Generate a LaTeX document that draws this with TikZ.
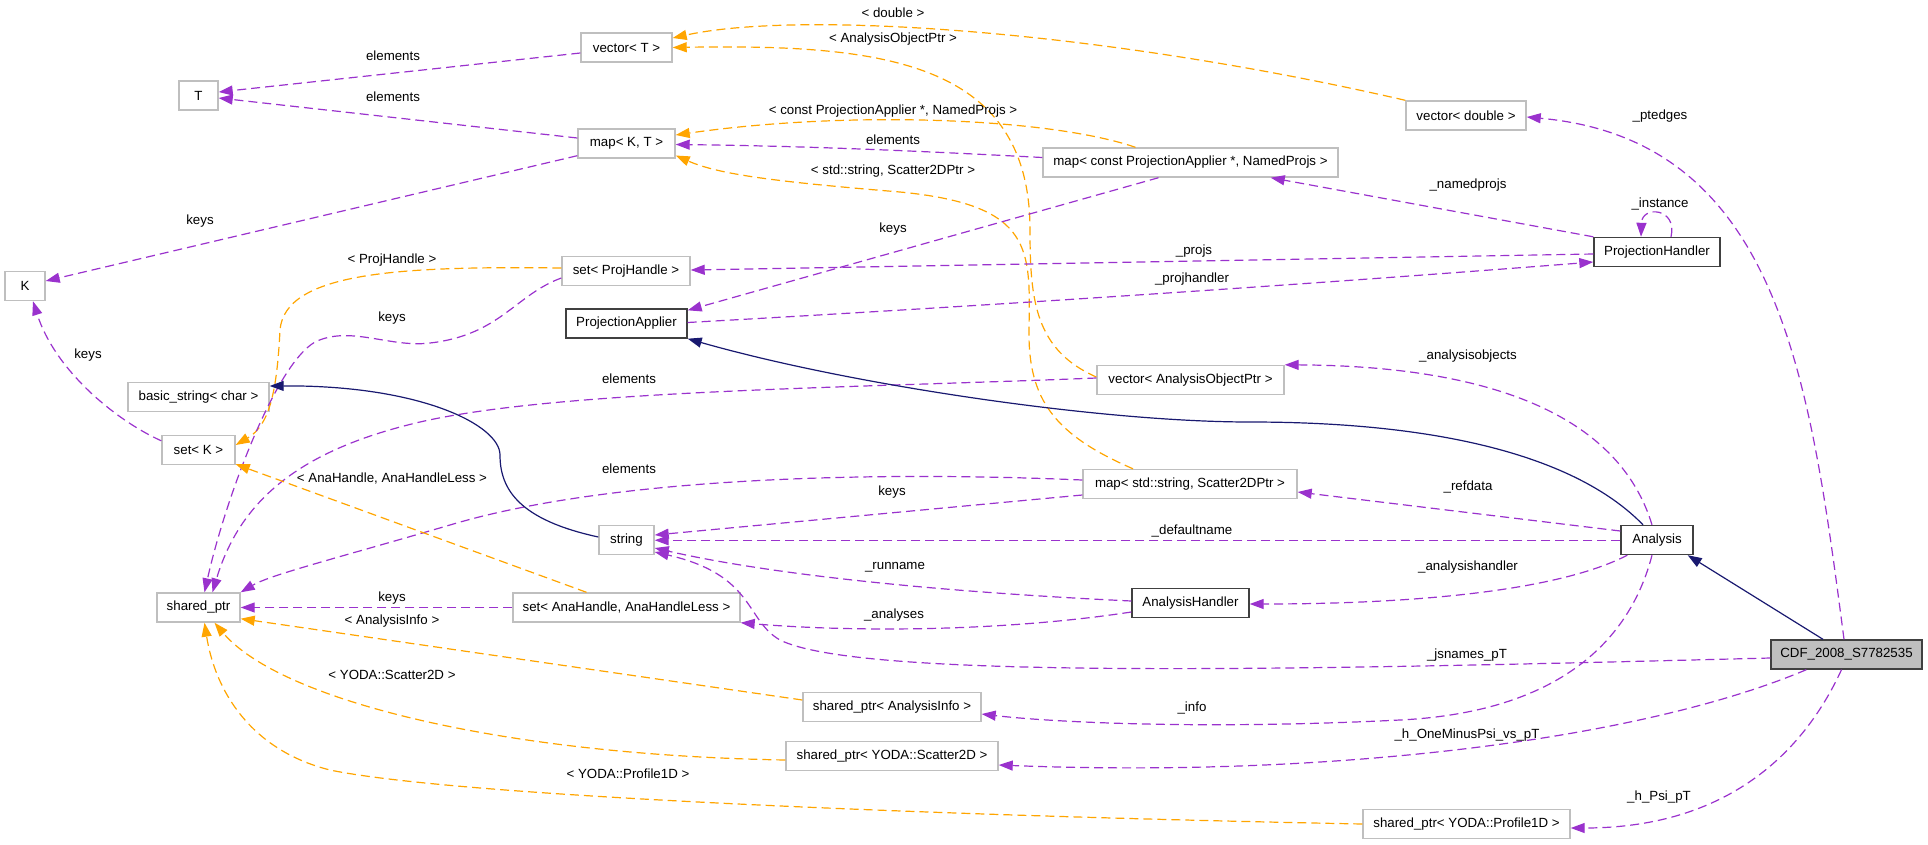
\documentclass[tikz,border=0pt]{standalone}
\usepackage{fontspec}
\setmainfont{Liberation Sans}
\usetikzlibrary{arrows.meta,calc}
\definecolor{edgepurple}{HTML}{9A32CD}
\definecolor{edgeorange}{HTML}{FFA500}
\definecolor{inhblue}{HTML}{191970}
\definecolor{boxgray}{HTML}{BFBFBF}
\definecolor{boldgray}{HTML}{404040}
\newcommand{\dxfont}{\fontsize{13.3}{15}\selectfont}
\begin{document}
\begin{tikzpicture}[x=1pt,y=-1pt,
 box/.style={draw=boxgray, line width=1.4pt, fill=white, minimum height=29, inner sep=0pt, font=\dxfont},
 boldbox/.style={box, draw=boldgray},
 lbl/.style={font=\dxfont, inner sep=0pt},
 rel/.style={draw=edgepurple, line width=1.2pt, dash pattern=on 9pt off 5pt, -{Triangle[length=14pt,width=10pt]}},
 tpl/.style={rel, draw=edgeorange},
 inh/.style={draw=inhblue, line width=1.2pt, -{Triangle[length=14pt,width=10pt]}}]
\useasboundingbox (0,0) rectangle (1928,844);
% nodes
\node[box, minimum width=91] (vt) at (626.5,47.5) {vector< T >};
\node[box, minimum width=39] (tt) at (198.5,95.5) {T};
\node[box, minimum width=97] (mkt) at (626.5,143.5) {map< K, T >};
\node[box, minimum width=40] (kk) at (25,286) {K};
\node[box, minimum width=128] (sph) at (626,271) {set< ProjHandle >};
\node[box, minimum width=120] (vd) at (1466,115.5) {vector< double >};
\node[box, minimum width=295] (mcpa) at (1190.5,162.5) {map< const ProjectionApplier *, NamedProjs >};
\node[boldbox, minimum width=126] (ph) at (1657,252) {ProjectionHandler};
\node[boldbox, minimum width=121] (pa) at (626.5,323.5) {ProjectionApplier};
\node[box, minimum width=141] (bs) at (198.5,397) {basic\_string< char >};
\node[box, minimum width=73] (sk) at (198.5,450) {set< K >};
\node[box, minimum width=55] (str) at (626.5,540) {string};
\node[box, minimum width=187] (vaop) at (1190.5,380) {vector< AnalysisObjectPtr >};
\node[box, minimum width=214] (mss) at (1190,484) {map< std::string, Scatter2DPtr >};
\node[boldbox, minimum width=72] (an) at (1657,540) {Analysis};
\node[box, minimum width=83] (sp) at (198.5,607.5) {shared\_ptr};
\node[box, minimum width=227] (sah) at (626.5,607.5) {set< AnaHandle, AnaHandleLess >};
\node[boldbox, minimum width=117] (ah) at (1190.5,603) {AnalysisHandler};
\node[box, minimum width=178] (spai) at (892,707) {shared\_ptr< AnalysisInfo >};
\node[box, minimum width=212] (sps) at (892,756) {shared\_ptr< YODA::Scatter2D >};
\node[box, minimum width=207] (spp) at (1466.5,824) {shared\_ptr< YODA::Profile1D >};
\node[boldbox, fill=boxgray, minimum width=151] (cdf) at (1846.5,654.5) {CDF\_2008\_S7782535};
% edges
\draw[rel] ($(vt.west)+(0,5.5)$) -- ($(tt.east)+(0,-3.5)$);
\draw[rel] ($(mkt.west)+(0,-5.5)$) -- ($(tt.east)+(0,2.5)$);
\draw[rel] ($(mkt.south west)+(0,-3)$) -- ($(kk.east)+(0,-5)$);
\draw[tpl] (vd.north west) .. controls (1100,30) and (800,10) .. ($(vt.east)+(0,-9.5)$);
\draw[tpl] ($(vaop.west)+(0,-3)$) .. controls (1035,350) and (1030,300) .. (1030,230) .. controls (1030,60) and (880,44) .. (vt.east);
\draw[tpl] ($(mcpa.north)+(-55,0)$) .. controls (1050,118) and (850,110) .. ($(mkt.east)+(0,-8.5)$);
\draw[rel] ($(mcpa.west)+(0,-5)$) .. controls (900,150) and (800,146) .. ($(mkt.east)+(0,1)$);
\draw[tpl] ($(mss.north)+(-57,0)$) .. controls (1055,435) and (1028,400) .. (1029,330) .. controls (1030,250) and (1035,205) .. (900,192) .. controls (780,182) and (720,175) .. ($(mkt.east)+(0,12)$);
\draw[rel] ($(mcpa.south)+(-32,0)$) -- ($(pa.north east)+(0,2)$);
\draw[rel] (ph.north west) -- ($(mcpa.south east)+(-68,0)$);
\draw[rel] ($(ph.north)+(14,0)$) .. controls (1678,208) and (1642,205) .. ($(ph.north)+(-16,0)$);
\draw[rel] ($(ph.west)+(0,2)$) -- ($(sph.east)+(0,-1)$);
\draw[rel] ($(pa.east)+(0,-1)$) .. controls (1000,305) and (1300,285) .. ($(ph.west)+(0,10)$);
\draw[tpl] ($(sph.west)+(0,-3)$) .. controls (400,266) and (285,272) .. (280,330) .. controls (277,390) and (270,425) .. ($(sk.east)+(0,-5)$);
\draw[rel] ($(sph.west)+(0,7)$) .. controls (515,295) and (500,335) .. (430,343) .. controls (390,348) and (350,325) .. (315,342) .. controls (275,365) and (225,500) .. ($(sp.north)+(6,0)$);
\draw[rel] ($(sk.north west)+(0,6)$) .. controls (115,420) and (55,370) .. ($(kk.south)+(8,0)$);
\draw[rel] ($(vaop.west)+(0,-2)$) .. controls (850,388) and (560,390) .. (420,422) .. controls (300,450) and (240,500) .. ($(sp.north)+(14,0)$);
\draw[rel] ($(mss.west)+(0,-4)$) .. controls (850,470) and (600,480) .. (450,525) .. controls (330,560) and (270,575) .. (sp.north east);
\draw[rel] ($(mss.west)+(0,11)$) -- ($(str.east)+(0,-5)$);
\draw[rel] ($(an.west)+(0,-9)$) -- ($(mss.east)+(0,8)$);
\draw[rel] ($(an.west)+(0,0.25)$) -- ($(str.east)+(0,0.25)$);
\draw[rel] ($(an.north)+(-5,0)$) .. controls (1620,420) and (1500,366) .. (vaop.north east);
\draw[inh] ($(an.north)+(-14,0)$) .. controls (1580,460) and (1450,422) .. (1250,422) .. controls (1100,422) and (850,385) .. (pa.south east);
\draw[inh] ($(str.west)+(0,-3)$) .. controls (520,520) and (500,490) .. (500,455) .. controls (500,425) and (420,385) .. ($(bs.east)+(0,-11)$);
\draw[rel] ($(ah.west)+(0,-2)$) .. controls (900,590) and (750,570) .. ($(str.east)+(0,8)$);
\draw[rel] ($(an.south west)+(7,0)$) .. controls (1560,590) and (1420,604) .. ($(ah.east)+(0,1)$);
\draw[rel] ($(ah.west)+(0,9)$) .. controls (1000,632) and (850,632) .. (sah.south east);
\draw[rel] (sah.west) -- (sp.east);
\draw[tpl] ($(sah.north)+(-40,0)$) -- ($(sk.south east)+(0,-1)$);
\draw[rel] ($(cdf.west)+(0,3.5)$) .. controls (1300,670) and (860,680) .. (780,640) .. controls (745,620) and (755,575) .. ($(str.east)+(0,12)$);
\draw[rel] ($(an.south)+(-5,0)$) .. controls (1630,640) and (1560,712) .. (1400,720) .. controls (1200,730) and (1050,722) .. ($(spai.east)+(0,7)$);
\draw[rel] ($(cdf.south west)+(36,0)$) .. controls (1640,740) and (1330,778) .. ($(sps.east)+(0,9)$);
\draw[rel] ($(cdf.south)+(-5,0)$) .. controls (1800,760) and (1720,828) .. ($(spp.east)+(0,4)$);
\draw[rel] ($(cdf.north)+(-2.5,0)$) .. controls (1810,380) and (1780,140) .. ($(vd.east)+(0,1.5)$);
\draw[inh] ($(cdf.north)+(-23.5,0)$) -- ($(an.south east)+(-6,0)$);
\draw[tpl] ($(spai.west)+(0,-7)$) -- ($(sp.south east)+(0,-4)$);
\draw[tpl] ($(sps.west)+(0,4)$) .. controls (500,755) and (280,700) .. ($(sp.south)+(16,0)$);
\draw[tpl] (spp.west) .. controls (900,815) and (450,795) .. (330,770) .. controls (250,750) and (215,690) .. ($(sp.south)+(6,0)$);
% labels
\node[lbl] (l01) at (393,56) {elements};
\node[lbl] (l02) at (393,97) {elements};
\node[lbl] (l03) at (200,221) {keys};
\node[lbl] (l04) at (392,260) {< ProjHandle >};
\node[lbl] (l05) at (893,13) {< double >};
\node[lbl] (l06) at (893,39) {< AnalysisObjectPtr >};
\node[lbl] (l07) at (893,111) {< const ProjectionApplier *, NamedProjs >};
\node[lbl] (l08) at (893,140) {elements};
\node[lbl] (l09) at (893,171) {< std::string, Scatter2DPtr >};
\node[lbl] (l10) at (893,229) {keys};
\node[lbl] (l11) at (1194,251) {\_projs};
\node[lbl] (l12) at (1192,279) {\_projhandler};
\node[lbl] (l13) at (1660,116) {\_ptedges};
\node[lbl] (l14) at (1468,185) {\_namedprojs};
\node[lbl] (l15) at (1660,204) {\_instance};
\node[lbl] (l16) at (392,318) {keys};
\node[lbl] (l17) at (88,355) {keys};
\node[lbl] (l18) at (629,379) {elements};
\node[lbl] (l19) at (392,479) {< AnaHandle, AnaHandleLess >};
\node[lbl] (l20) at (629,469) {elements};
\node[lbl] (l21) at (892,492) {keys};
\node[lbl] (l22) at (1192,531) {\_defaultname};
\node[lbl] (l23) at (895,567) {\_runname};
\node[lbl] (l24) at (1468,356) {\_analysisobjects};
\node[lbl] (l25) at (1468,487) {\_refdata};
\node[lbl] (l26) at (1468,567) {\_analysishandler};
\node[lbl] (l27) at (392,598) {keys};
\node[lbl] (l28) at (392,621) {< AnalysisInfo >};
\node[lbl] (l29) at (894,615) {\_analyses};
\node[lbl] (l30) at (392,675) {< YODA::Scatter2D >};
\node[lbl] (l31) at (1467,655) {\_jsnames\_pT};
\node[lbl] (l32) at (1192,708) {\_info};
\node[lbl] (l33) at (1467,735) {\_h\_OneMinusPsi\_vs\_pT};
\node[lbl] (l34) at (628,774) {< YODA::Profile1D >};
\node[lbl] (l35) at (1659,797) {\_h\_Psi\_pT};
\end{tikzpicture}
\end{document}
